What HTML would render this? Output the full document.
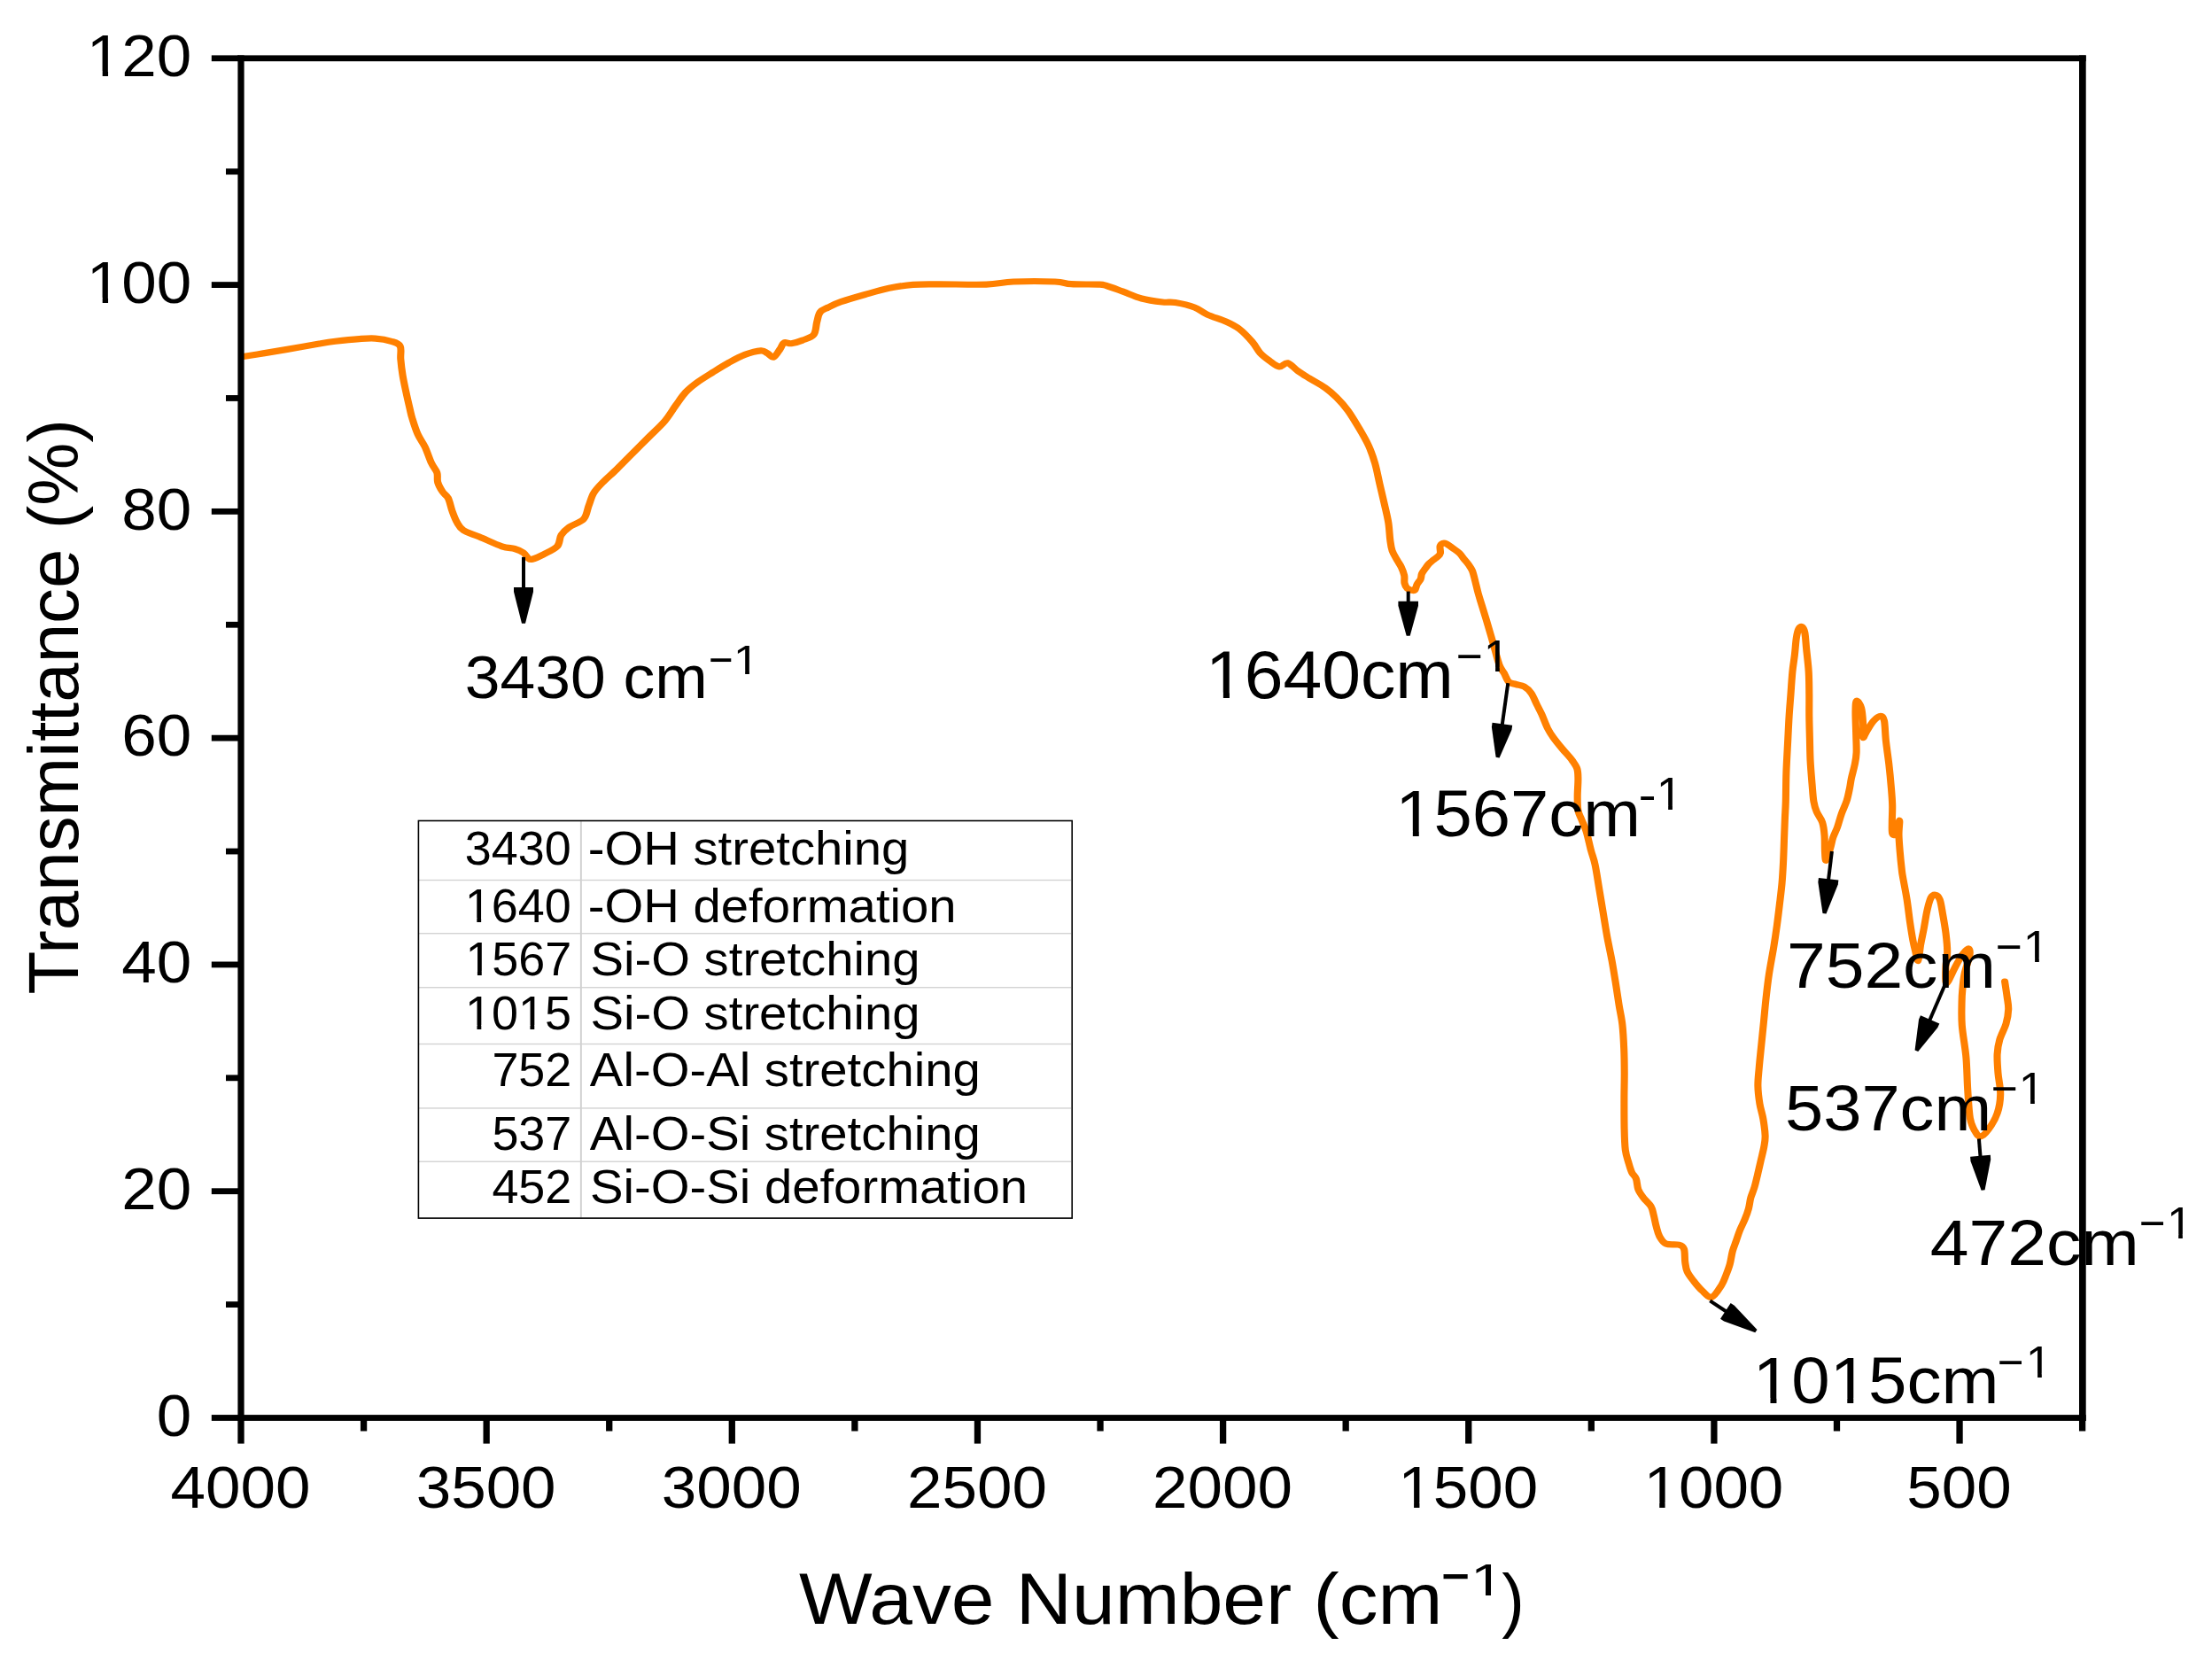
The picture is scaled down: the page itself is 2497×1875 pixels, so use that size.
<!DOCTYPE html>
<html><head><meta charset="utf-8"><title>FTIR spectrum</title>
<style>html,body{margin:0;padding:0;background:#fff;}body{width:2497px;height:1875px;overflow:hidden;}svg{display:block;}</style>
</head><body>
<svg width="2497" height="1875" viewBox="0 0 2497 1875">
<defs><clipPath id="c0" clipPathUnits="userSpaceOnUse"><rect x="77.78" y="254.74" width="158.69" height="81.49"/><rect x="77.78" y="335.74" width="21.49" height="32.91"/><rect x="115.70" y="335.74" width="6.35" height="32.91"/><rect x="137.07" y="335.74" width="99.41" height="32.91"/></clipPath><clipPath id="c1" clipPathUnits="userSpaceOnUse"><rect x="77.78" y="-1.04" width="158.69" height="81.49"/><rect x="77.78" y="79.96" width="21.49" height="32.91"/><rect x="115.70" y="79.96" width="6.35" height="32.91"/><rect x="137.07" y="79.96" width="99.41" height="32.91"/></clipPath><clipPath id="c2" clipPathUnits="userSpaceOnUse"><rect x="1835.30" y="1615.01" width="198.19" height="81.49"/><rect x="1835.30" y="1696.01" width="21.49" height="32.91"/><rect x="1873.23" y="1696.01" width="6.35" height="32.91"/><rect x="1894.59" y="1696.01" width="138.91" height="32.91"/></clipPath><clipPath id="c3" clipPathUnits="userSpaceOnUse"><rect x="1558.15" y="1615.01" width="198.19" height="81.49"/><rect x="1558.15" y="1696.01" width="21.49" height="32.91"/><rect x="1596.08" y="1696.01" width="6.35" height="32.91"/><rect x="1617.44" y="1696.01" width="138.91" height="32.91"/></clipPath><clipPath id="c4" clipPathUnits="userSpaceOnUse"><rect x="1645.16" y="1736.25" width="67.31" height="59.95"/><rect x="1645.16" y="1795.71" width="16.15" height="24.56"/><rect x="1676.98" y="1795.71" width="6.05" height="24.56"/><rect x="1697.35" y="1795.71" width="15.12" height="24.56"/></clipPath><clipPath id="c5" clipPathUnits="userSpaceOnUse"><rect x="813.90" y="700.71" width="57.41" height="56.04"/><rect x="813.90" y="756.25" width="14.91" height="23.04"/><rect x="841.16" y="756.25" width="4.77" height="23.04"/><rect x="857.21" y="756.25" width="14.10" height="23.04"/></clipPath><clipPath id="c6" clipPathUnits="userSpaceOnUse"><rect x="1338.55" y="690.12" width="324.92" height="91.65"/><rect x="1338.55" y="781.28" width="24.12" height="36.84"/><rect x="1380.87" y="781.28" width="7.03" height="36.84"/><rect x="1404.52" y="781.28" width="258.95" height="36.84"/></clipPath><clipPath id="c7" clipPathUnits="userSpaceOnUse"><rect x="1659.72" y="692.32" width="59.62" height="61.02"/><rect x="1659.72" y="752.84" width="16.12" height="24.97"/><rect x="1688.09" y="752.84" width="4.73" height="24.97"/><rect x="1704.02" y="752.84" width="15.32" height="24.97"/></clipPath><clipPath id="c8" clipPathUnits="userSpaceOnUse"><rect x="1553.34" y="848.57" width="320.56" height="89.16"/><rect x="1553.34" y="937.23" width="23.50" height="35.88"/><rect x="1594.83" y="937.23" width="6.95" height="35.88"/><rect x="1618.22" y="937.23" width="255.68" height="35.88"/></clipPath><clipPath id="c9" clipPathUnits="userSpaceOnUse"><rect x="1854.46" y="847.68" width="60.28" height="61.91"/><rect x="1854.46" y="909.09" width="16.35" height="25.32"/><rect x="1883.16" y="909.09" width="4.77" height="25.32"/><rect x="1899.21" y="909.09" width="15.54" height="25.32"/></clipPath><clipPath id="c10" clipPathUnits="userSpaceOnUse"><rect x="1956.61" y="1487.54" width="322.22" height="90.41"/><rect x="1956.61" y="1577.45" width="23.81" height="36.36"/><rect x="1998.48" y="1577.45" width="6.97" height="36.36"/><rect x="2021.95" y="1577.45" width="45.27" height="36.36"/><rect x="2085.29" y="1577.45" width="6.97" height="36.36"/><rect x="2108.76" y="1577.45" width="170.06" height="36.36"/></clipPath><clipPath id="c11" clipPathUnits="userSpaceOnUse"><rect x="2271.59" y="1488.95" width="59.88" height="61.56"/><rect x="2271.59" y="1550.01" width="16.25" height="25.18"/><rect x="2300.09" y="1550.01" width="4.73" height="25.18"/><rect x="2316.02" y="1550.01" width="15.45" height="25.18"/></clipPath><clipPath id="c12" clipPathUnits="userSpaceOnUse"><rect x="2268.63" y="1020.04" width="59.79" height="61.38"/><rect x="2268.63" y="1080.92" width="16.21" height="25.11"/><rect x="2297.09" y="1080.92" width="4.73" height="25.11"/><rect x="2313.02" y="1080.92" width="15.41" height="25.11"/></clipPath><clipPath id="c13" clipPathUnits="userSpaceOnUse"><rect x="2263.63" y="1180.04" width="59.79" height="61.38"/><rect x="2263.63" y="1240.92" width="16.21" height="25.11"/><rect x="2292.09" y="1240.92" width="4.73" height="25.11"/><rect x="2308.02" y="1240.92" width="15.41" height="25.11"/></clipPath><clipPath id="c14" clipPathUnits="userSpaceOnUse"><rect x="2430.82" y="1332.13" width="59.48" height="61.20"/><rect x="2430.82" y="1392.83" width="16.16" height="25.04"/><rect x="2459.13" y="1392.83" width="4.69" height="25.04"/><rect x="2474.93" y="1392.83" width="15.36" height="25.04"/></clipPath><clipPath id="c15" clipPathUnits="userSpaceOnUse"><rect x="508.63" y="970.83" width="152.25" height="65.44"/><rect x="508.63" y="1035.77" width="17.22" height="26.69"/><rect x="538.33" y="1035.77" width="4.82" height="26.69"/><rect x="554.54" y="1035.77" width="106.34" height="26.69"/></clipPath><clipPath id="c16" clipPathUnits="userSpaceOnUse"><rect x="509.23" y="1031.13" width="152.25" height="65.44"/><rect x="509.23" y="1096.07" width="17.22" height="26.69"/><rect x="538.93" y="1096.07" width="4.82" height="26.69"/><rect x="555.14" y="1096.07" width="106.34" height="26.69"/></clipPath><clipPath id="c17" clipPathUnits="userSpaceOnUse"><rect x="508.79" y="1091.93" width="152.25" height="65.44"/><rect x="508.79" y="1156.87" width="17.22" height="26.69"/><rect x="538.48" y="1156.87" width="4.82" height="26.69"/><rect x="554.70" y="1156.87" width="31.27" height="26.69"/><rect x="598.44" y="1156.87" width="4.82" height="26.69"/><rect x="614.65" y="1156.87" width="46.38" height="26.69"/></clipPath></defs>
<rect width="100%" height="100%" fill="#fff"/>
<g font-family="'Liberation Sans', Arial, sans-serif" fill="#000">
<rect x="471.0" y="925.8" width="740.0" height="450.0" fill="#fff"/>
<rect x="473.0" y="992.9" width="736.0" height="1.3" fill="#d0d0d0"/>
<rect x="473.0" y="1053.1" width="736.0" height="1.3" fill="#d0d0d0"/>
<rect x="473.0" y="1114.1" width="736.0" height="1.3" fill="#d0d0d0"/>
<rect x="473.0" y="1177.9" width="736.0" height="1.3" fill="#d0d0d0"/>
<rect x="473.0" y="1250.3" width="736.0" height="1.3" fill="#d0d0d0"/>
<rect x="473.0" y="1310.6" width="736.0" height="1.3" fill="#d0d0d0"/>
<rect x="654.9" y="927.1" width="1.9" height="447.4" fill="#d0d0d0"/>
<rect x="472.4" y="926.5" width="737.8" height="448.6" fill="none" stroke="#000" stroke-width="1.6"/>
<text x="524.80" y="976.00" font-size="53.90" textLength="119.91" lengthAdjust="spacingAndGlyphs">3430</text>
<text x="663.70" y="976.0" font-size="53.9" textLength="362.74" lengthAdjust="spacingAndGlyphs">-OH stretching</text>
<text x="524.80" y="1040.90" font-size="53.90" textLength="119.91" lengthAdjust="spacingAndGlyphs" clip-path="url(#c15)">1640</text>
<text x="663.70" y="1040.9" font-size="53.9" textLength="415.94" lengthAdjust="spacingAndGlyphs">-OH deformation</text>
<text x="525.40" y="1101.20" font-size="53.90" textLength="119.91" lengthAdjust="spacingAndGlyphs" clip-path="url(#c16)">1567</text>
<text x="666.44" y="1101.2" font-size="53.9" textLength="372.14" lengthAdjust="spacingAndGlyphs">Si-O stretching</text>
<text x="524.96" y="1162.00" font-size="53.90" textLength="119.91" lengthAdjust="spacingAndGlyphs" clip-path="url(#c17)">1015</text>
<text x="666.44" y="1162.0" font-size="53.9" textLength="372.14" lengthAdjust="spacingAndGlyphs">Si-O stretching</text>
<text x="555.38" y="1225.70" font-size="53.90" textLength="89.93" lengthAdjust="spacingAndGlyphs">752</text>
<text x="665.89" y="1225.7" font-size="53.9" textLength="440.91" lengthAdjust="spacingAndGlyphs">Al-O-Al stretching</text>
<text x="555.38" y="1298.20" font-size="53.90" textLength="89.93" lengthAdjust="spacingAndGlyphs">537</text>
<text x="665.89" y="1298.2" font-size="53.9" textLength="440.91" lengthAdjust="spacingAndGlyphs">Al-O-Si stretching</text>
<text x="555.38" y="1358.10" font-size="53.90" textLength="89.93" lengthAdjust="spacingAndGlyphs">452</text>
<text x="665.94" y="1358.1" font-size="53.9" textLength="494.11" lengthAdjust="spacingAndGlyphs">Si-O-Si deformation</text>
<g transform="scale(1.1250,1)"><path fill="none" stroke="#ff8000" stroke-width="7.2" stroke-linejoin="round" stroke-linecap="round" d="M244.00,402.50C247.35,401.90 256.73,400.25 264.09,398.90C271.45,397.55 278.80,396.22 288.18,394.40C297.56,392.58 312.31,389.52 320.36,388.00C328.40,386.48 329.75,386.20 336.44,385.30C343.14,384.40 353.84,383.13 360.53,382.60C367.23,382.07 371.26,381.65 376.62,382.10C381.99,382.55 388.56,383.87 392.71,385.30C396.86,386.73 399.96,387.38 401.51,390.70C403.07,394.02 401.63,399.77 402.04,405.20C402.46,410.63 403.14,417.27 404.00,423.30C404.86,429.33 406.00,435.07 407.20,441.40C408.40,447.73 410.13,456.18 411.20,461.30C412.27,466.42 412.27,467.28 413.60,472.10C414.93,476.92 417.05,484.77 419.20,490.20C421.35,495.63 424.21,499.28 426.49,504.70C428.77,510.12 430.89,517.88 432.89,522.70C434.89,527.52 437.42,529.97 438.49,533.60C439.56,537.23 438.34,540.88 439.29,544.50C440.24,548.12 442.43,552.30 444.18,555.30C445.93,558.30 448.18,558.88 449.78,562.50C451.38,566.12 452.31,572.47 453.78,577.00C455.24,581.53 456.70,586.08 458.58,589.70C460.46,593.32 461.32,595.98 465.07,598.70C468.81,601.42 474.64,602.98 481.07,606.00C487.50,609.02 497.75,614.55 503.64,616.80C509.54,619.05 512.83,618.30 516.44,619.50C520.06,620.70 523.05,622.20 525.33,624.00C527.61,625.80 528.67,629.10 530.13,630.30C531.60,631.50 531.59,631.95 534.13,631.20C536.68,630.45 541.26,628.20 545.42,625.80C549.59,623.40 556.16,620.42 559.11,616.80C562.06,613.18 561.11,607.72 563.11,604.10C565.11,600.48 567.36,598.12 571.11,595.10C574.86,592.08 582.34,589.98 585.60,586.00C588.86,582.02 589.01,576.07 590.67,571.20C592.33,566.33 593.27,561.17 595.56,556.80C597.84,552.43 600.47,549.52 604.36,545.00C608.24,540.48 614.03,534.97 618.84,529.70C623.66,524.43 627.90,519.43 633.24,513.40C638.59,507.37 645.30,499.83 650.93,493.50C656.56,487.17 662.46,481.43 667.02,475.40C671.59,469.37 674.83,462.72 678.31,457.30C681.79,451.88 684.43,447.12 687.91,442.90C691.39,438.68 694.64,435.77 699.20,432.00C703.76,428.23 709.94,424.07 715.29,420.30C720.64,416.53 725.94,412.72 731.29,409.40C736.64,406.08 742.01,402.67 747.38,400.40C752.74,398.13 759.72,396.10 763.47,395.80C767.21,395.50 767.72,397.38 769.87,398.60C772.01,399.82 774.21,403.87 776.36,403.10C778.50,402.33 781.02,396.72 782.76,394.00C784.49,391.28 784.87,387.85 786.76,386.80C788.64,385.75 790.96,388.15 794.04,387.70C797.13,387.25 801.50,385.75 805.24,384.10C808.99,382.45 814.12,381.27 816.53,377.80C818.95,374.33 818.67,367.53 819.73,363.30C820.80,359.07 821.05,355.12 822.93,352.40C824.81,349.68 827.54,348.95 831.02,347.00C834.50,345.05 837.66,343.12 843.82,340.70C849.99,338.28 859.96,335.07 868.00,332.50C876.04,329.93 884.06,327.17 892.09,325.30C900.12,323.43 907.82,322.05 916.18,321.30C924.53,320.55 929.99,320.83 942.22,320.80C954.46,320.77 977.16,321.57 989.60,321.10C1002.04,320.63 1005.38,318.52 1016.89,318.00C1028.40,317.48 1049.02,317.55 1058.67,318.00C1068.31,318.45 1067.51,320.18 1074.76,320.70C1082.00,321.22 1096.24,320.80 1102.13,321.10C1108.03,321.40 1106.12,321.20 1110.13,322.50C1114.15,323.80 1120.33,326.48 1126.22,328.90C1132.12,331.32 1138.81,334.98 1145.51,337.00C1152.21,339.02 1160.77,340.25 1166.40,341.00C1172.03,341.75 1173.93,340.50 1179.29,341.50C1184.65,342.50 1193.23,344.73 1198.58,347.00C1203.93,349.27 1206.03,352.40 1211.38,355.10C1216.73,357.80 1225.30,360.48 1230.67,363.20C1236.03,365.92 1239.26,367.63 1243.56,371.40C1247.85,375.17 1252.96,381.28 1256.44,385.80C1259.93,390.32 1261.50,394.88 1264.44,398.50C1267.39,402.12 1270.92,404.93 1274.13,407.50C1277.35,410.07 1280.74,413.52 1283.73,413.90C1286.73,414.28 1288.96,408.97 1292.09,409.80C1295.21,410.63 1298.87,416.03 1302.49,418.90C1306.10,421.77 1309.21,423.83 1313.78,427.00C1318.34,430.17 1325.32,434.28 1329.87,437.90C1334.41,441.52 1337.32,444.48 1341.07,448.70C1344.81,452.92 1348.61,457.47 1352.36,463.20C1356.10,468.93 1360.07,476.47 1363.56,483.10C1367.04,489.73 1370.56,496.37 1373.24,503.00C1375.93,509.63 1377.78,515.67 1379.64,522.90C1381.51,530.13 1382.83,538.57 1384.44,546.40C1386.06,554.23 1387.88,562.63 1389.33,569.90C1390.79,577.17 1392.22,583.33 1393.16,590.00C1394.09,596.67 1394.30,604.60 1394.93,609.90C1395.57,615.20 1395.81,618.05 1396.98,621.80C1398.15,625.55 1400.43,629.32 1401.96,632.40C1403.48,635.48 1404.95,637.43 1406.13,640.30C1407.32,643.17 1408.53,646.62 1409.07,649.60C1409.60,652.58 1408.84,655.77 1409.33,658.20C1409.82,660.63 1410.87,662.87 1412.00,664.20C1413.13,665.53 1414.81,665.87 1416.09,666.20C1417.36,666.53 1418.67,667.32 1419.64,666.20C1420.62,665.08 1420.98,661.60 1421.96,659.50C1422.93,657.40 1424.73,655.58 1425.51,653.60C1426.30,651.62 1425.88,649.58 1426.67,647.60C1427.45,645.62 1429.04,643.57 1430.22,641.70C1431.41,639.83 1432.50,637.95 1433.78,636.40C1435.05,634.85 1436.40,633.73 1437.87,632.40C1439.33,631.07 1441.35,629.73 1442.58,628.40C1443.81,627.07 1444.84,626.38 1445.24,624.40C1445.64,622.42 1444.53,618.37 1444.98,616.50C1445.42,614.63 1446.84,613.65 1447.91,613.20C1448.98,612.75 1449.81,612.92 1451.38,613.80C1452.95,614.68 1455.17,616.73 1457.33,618.50C1459.50,620.27 1462.40,622.30 1464.36,624.40C1466.31,626.50 1467.50,628.88 1469.07,631.10C1470.64,633.32 1472.40,635.50 1473.78,637.70C1475.16,639.90 1476.25,641.22 1477.33,644.30C1478.41,647.38 1479.29,652.00 1480.27,656.20C1481.24,660.40 1482.12,665.08 1483.20,669.50C1484.28,673.92 1485.38,677.62 1486.76,682.70C1488.13,687.78 1489.60,692.95 1491.47,700.00C1493.33,707.05 1495.81,716.62 1497.96,725.00C1500.10,733.38 1502.47,744.48 1504.36,750.30C1506.24,756.12 1507.64,756.65 1509.24,759.90C1510.84,763.15 1511.99,767.70 1513.96,769.80C1515.93,771.90 1518.50,771.62 1521.07,772.50C1523.63,773.38 1526.79,773.45 1529.33,775.10C1531.88,776.75 1534.21,778.98 1536.36,782.40C1538.50,785.82 1540.46,791.63 1542.22,795.60C1543.99,799.57 1545.16,801.78 1546.93,806.20C1548.71,810.62 1550.92,817.68 1552.89,822.10C1554.86,826.52 1556.21,828.72 1558.76,832.70C1561.30,836.68 1565.24,842.02 1568.18,846.00C1571.11,849.98 1574.00,853.07 1576.36,856.60C1578.71,860.13 1581.13,863.45 1582.31,867.20C1583.50,870.95 1583.38,873.82 1583.47,879.10C1583.56,884.38 1582.84,892.95 1582.84,898.90C1582.84,904.85 1582.77,910.38 1583.47,914.80C1584.16,919.22 1585.64,921.42 1587.02,925.40C1588.40,929.38 1590.16,932.93 1591.73,938.70C1593.30,944.47 1594.98,953.77 1596.44,960.00C1597.91,966.23 1599.17,968.90 1600.53,976.10C1601.90,983.30 1603.27,994.17 1604.62,1003.20C1605.97,1012.23 1607.29,1021.27 1608.62,1030.30C1609.96,1039.33 1611.16,1048.37 1612.62,1057.40C1614.09,1066.43 1615.96,1075.47 1617.42,1084.50C1618.89,1093.53 1620.22,1103.17 1621.42,1111.60C1622.62,1120.03 1623.54,1127.57 1624.62,1135.10C1625.70,1142.63 1627.10,1148.67 1627.91,1156.80C1628.73,1164.93 1629.17,1174.87 1629.51,1183.90C1629.85,1192.93 1629.93,1201.65 1629.96,1211.00C1629.99,1220.35 1629.70,1229.33 1629.69,1240.00C1629.67,1250.67 1629.66,1265.32 1629.87,1275.00C1630.07,1284.68 1630.22,1291.85 1630.93,1298.10C1631.64,1304.35 1633.07,1308.30 1634.13,1312.50C1635.20,1316.70 1636.07,1320.28 1637.33,1323.30C1638.59,1326.32 1640.61,1327.38 1641.69,1330.60C1642.77,1333.82 1642.58,1339.00 1643.82,1342.60C1645.07,1346.20 1647.02,1348.98 1649.16,1352.20C1651.29,1355.42 1654.93,1358.68 1656.62,1361.90C1658.31,1365.12 1658.40,1367.70 1659.29,1371.50C1660.18,1375.30 1660.98,1380.68 1661.96,1384.70C1662.93,1388.72 1663.54,1392.38 1665.16,1395.60C1666.77,1398.82 1668.43,1402.40 1671.64,1404.00C1674.86,1405.60 1681.42,1404.20 1684.44,1405.20C1687.47,1406.20 1688.71,1406.78 1689.78,1410.00C1690.84,1413.22 1690.31,1420.28 1690.84,1424.50C1691.38,1428.72 1691.54,1431.70 1692.98,1435.30C1694.41,1438.90 1696.96,1442.48 1699.47,1446.10C1701.97,1449.72 1704.98,1453.98 1708.00,1457.00C1711.02,1460.02 1714.39,1465.20 1717.60,1464.20C1720.81,1463.20 1724.87,1455.22 1727.29,1451.00C1729.70,1446.78 1730.67,1442.92 1732.09,1438.90C1733.51,1434.88 1734.76,1431.32 1735.82,1426.90C1736.89,1422.48 1737.42,1416.82 1738.49,1412.40C1739.56,1407.98 1740.98,1404.40 1742.22,1400.40C1743.47,1396.40 1744.52,1392.42 1745.96,1388.40C1747.39,1384.38 1749.41,1380.32 1750.84,1376.30C1752.28,1372.28 1753.60,1368.32 1754.58,1364.30C1755.56,1360.28 1755.73,1356.22 1756.71,1352.20C1757.69,1348.18 1759.29,1344.62 1760.44,1340.20C1761.60,1335.78 1762.58,1330.72 1763.64,1325.70C1764.71,1320.68 1765.78,1315.32 1766.84,1310.10C1767.91,1304.88 1769.32,1299.08 1770.04,1294.40C1770.77,1289.72 1771.35,1287.25 1771.20,1282.00C1771.05,1276.75 1770.07,1268.95 1769.16,1262.90C1768.24,1256.85 1766.56,1251.88 1765.69,1245.70C1764.81,1239.52 1764.01,1232.42 1763.91,1225.80C1763.81,1219.18 1764.49,1213.72 1765.07,1206.00C1765.64,1198.28 1766.59,1188.33 1767.38,1179.50C1768.16,1170.67 1768.99,1161.83 1769.78,1153.00C1770.56,1144.17 1771.21,1135.33 1772.09,1126.50C1772.96,1117.67 1773.73,1109.63 1775.02,1100.00C1776.31,1090.37 1778.49,1077.93 1779.82,1068.70C1781.16,1059.47 1782.04,1052.63 1783.02,1044.60C1784.00,1036.57 1784.84,1028.53 1785.69,1020.50C1786.53,1012.47 1787.47,1004.43 1788.09,996.40C1788.71,988.37 1789.07,980.33 1789.42,972.30C1789.78,964.27 1789.96,956.23 1790.22,948.20C1790.49,940.17 1790.76,931.33 1791.02,924.10C1791.29,916.87 1791.60,913.52 1791.82,904.80C1792.04,896.08 1791.99,883.60 1792.36,871.80C1792.73,860.00 1793.57,844.52 1794.04,834.00C1794.52,823.48 1794.73,817.13 1795.20,808.70C1795.67,800.27 1796.33,791.82 1796.89,783.40C1797.45,774.98 1797.93,765.57 1798.58,758.20C1799.23,750.83 1800.15,745.52 1800.80,739.20C1801.45,732.88 1801.84,725.13 1802.49,720.30C1803.14,715.47 1803.78,712.32 1804.71,710.20C1805.64,708.08 1807.05,706.98 1808.09,707.60C1809.13,708.22 1810.18,709.68 1810.93,713.90C1811.69,718.12 1811.97,725.52 1812.62,732.90C1813.27,740.28 1814.39,749.78 1814.84,758.20C1815.30,766.62 1815.29,774.98 1815.38,783.40C1815.47,791.82 1815.29,800.27 1815.38,808.70C1815.47,817.13 1815.72,825.58 1815.91,834.00C1816.10,842.42 1816.15,850.78 1816.53,859.20C1816.92,867.62 1817.66,876.90 1818.22,884.50C1818.79,892.10 1819.13,899.45 1819.91,904.80C1820.70,910.15 1821.50,912.70 1822.93,916.60C1824.37,920.50 1827.24,923.85 1828.53,928.20C1829.82,932.55 1830.24,937.08 1830.67,942.70C1831.10,948.32 1830.83,957.15 1831.11,961.90C1831.39,966.65 1831.42,972.00 1832.36,971.20C1833.29,970.40 1835.56,961.38 1836.71,957.10C1837.87,952.82 1838.15,949.35 1839.29,945.50C1840.43,941.65 1842.13,938.48 1843.56,934.00C1844.98,929.52 1846.25,923.58 1847.82,918.60C1849.39,913.62 1851.61,908.93 1852.98,904.10C1854.34,899.27 1855.21,893.85 1856.00,889.60C1856.79,885.35 1856.83,883.08 1857.69,878.60C1858.55,874.12 1860.31,867.55 1861.16,862.70C1862.00,857.85 1862.55,855.02 1862.76,849.50C1862.96,843.98 1862.56,837.33 1862.40,829.60C1862.24,821.87 1861.69,809.50 1861.78,803.10C1861.87,796.70 1861.96,791.87 1862.93,791.20C1863.91,790.53 1866.56,794.90 1867.64,799.10C1868.73,803.30 1869.13,810.87 1869.42,816.40C1869.72,821.93 1868.83,830.77 1869.42,832.30C1870.01,833.83 1871.21,828.70 1872.98,825.60C1874.74,822.50 1877.64,816.57 1880.00,813.70C1882.36,810.83 1885.33,808.40 1887.11,808.40C1888.89,808.40 1889.79,809.07 1890.67,813.70C1891.54,818.33 1891.57,828.03 1892.36,836.20C1893.14,844.37 1894.49,853.87 1895.38,862.70C1896.27,871.53 1897.11,881.47 1897.69,889.20C1898.27,896.93 1898.71,902.48 1898.84,909.10C1898.98,915.72 1898.49,923.60 1898.49,928.90C1898.49,934.20 1898.19,938.90 1898.84,940.90C1899.50,942.90 1901.21,943.33 1902.40,940.90C1903.59,938.47 1905.47,926.08 1905.96,926.30C1906.44,926.52 1905.24,936.25 1905.33,942.20C1905.42,948.15 1906.00,955.38 1906.49,962.00C1906.98,968.62 1907.79,977.23 1908.27,981.90C1908.74,986.57 1908.47,984.43 1909.33,990.00C1910.19,995.57 1912.24,1006.87 1913.42,1015.30C1914.61,1023.73 1915.44,1032.88 1916.44,1040.60C1917.45,1048.32 1918.59,1056.27 1919.47,1061.60C1920.34,1066.93 1920.81,1068.80 1921.69,1072.60C1922.56,1076.40 1923.78,1085.52 1924.71,1084.40C1925.64,1083.28 1926.36,1071.80 1927.29,1065.90C1928.22,1060.00 1929.24,1055.33 1930.31,1049.00C1931.38,1042.67 1932.50,1033.80 1933.69,1027.90C1934.87,1022.00 1936.04,1016.55 1937.42,1013.60C1938.80,1010.65 1940.46,1009.92 1941.96,1010.20C1943.45,1010.48 1945.16,1011.65 1946.40,1015.30C1947.64,1018.95 1948.41,1025.78 1949.42,1032.10C1950.43,1038.42 1951.69,1046.17 1952.44,1053.20C1953.20,1060.23 1953.96,1067.98 1953.96,1074.30C1953.96,1080.62 1952.70,1085.48 1952.44,1091.10C1952.19,1096.72 1952.07,1105.18 1952.44,1108.00C1952.81,1110.82 1953.05,1110.82 1954.67,1108.00C1956.28,1105.18 1959.63,1096.30 1962.13,1091.10C1964.64,1085.90 1967.50,1080.17 1969.69,1076.80C1971.88,1073.43 1974.18,1070.62 1975.29,1070.90C1976.40,1071.18 1977.05,1073.72 1976.36,1078.50C1975.66,1083.28 1972.30,1093.28 1971.11,1099.60C1969.93,1105.92 1969.67,1111.33 1969.24,1116.40C1968.81,1121.47 1968.62,1123.17 1968.53,1130.00C1968.44,1136.83 1968.00,1146.80 1968.71,1157.40C1969.42,1168.00 1971.85,1181.55 1972.80,1193.60C1973.75,1205.65 1973.73,1218.27 1974.40,1229.70C1975.07,1241.13 1975.60,1254.37 1976.80,1262.20C1978.00,1270.03 1979.87,1273.23 1981.60,1276.70C1983.33,1280.17 1984.92,1283.30 1987.20,1283.00C1989.48,1282.70 1992.47,1279.27 1995.29,1274.90C1998.10,1270.53 2002.09,1263.43 2004.09,1256.80C2006.09,1250.17 2007.16,1242.63 2007.29,1235.10C2007.42,1227.57 2005.42,1219.12 2004.89,1211.60C2004.36,1204.08 2003.82,1196.32 2004.09,1190.00C2004.36,1183.68 2005.02,1179.43 2006.49,1173.70C2007.96,1167.97 2011.42,1161.32 2012.89,1155.60C2014.36,1149.88 2015.13,1144.52 2015.29,1139.40C2015.45,1134.28 2014.47,1130.13 2013.87,1124.90C2013.26,1119.67 2012.01,1110.82 2011.64,1108.00"/></g>
<text x="524.88" y="788.00" font-size="67.60" textLength="273.83" lengthAdjust="spacingAndGlyphs">3430 cm</text>
<text x="827.77" y="760.80" font-size="46.22" textLength="29.67" lengthAdjust="spacingAndGlyphs" clip-path="url(#c5)">1</text>
<text x="799.67" y="762.72" font-size="53.30" textLength="27.65" lengthAdjust="spacingAndGlyphs">−</text>
<text x="1361.14" y="788.00" font-size="75.29" textLength="279.75" lengthAdjust="spacingAndGlyphs" clip-path="url(#c6)">1640cm</text>
<text x="1674.81" y="757.70" font-size="50.29" textLength="29.45" lengthAdjust="spacingAndGlyphs" clip-path="url(#c7)">1</text>
<text x="1643.46" y="758.62" font-size="53.30" textLength="30.05" lengthAdjust="spacingAndGlyphs">−</text>
<text x="1575.32" y="943.80" font-size="73.26" textLength="276.60" lengthAdjust="spacingAndGlyphs" clip-path="url(#c8)">1567cm</text>
<text x="1869.77" y="914.00" font-size="51.02" textLength="29.67" lengthAdjust="spacingAndGlyphs" clip-path="url(#c9)">1</text>
<text x="1849.41" y="914.21" font-size="49.92" textLength="20.19" lengthAdjust="spacingAndGlyphs">-</text>
<text x="1978.89" y="1584.10" font-size="74.27" textLength="277.65" lengthAdjust="spacingAndGlyphs" clip-path="url(#c10)">1015cm</text>
<text x="2286.81" y="1554.90" font-size="50.73" textLength="29.45" lengthAdjust="spacingAndGlyphs" clip-path="url(#c11)">1</text>
<text x="2254.58" y="1555.62" font-size="53.30" textLength="29.81" lengthAdjust="spacingAndGlyphs">−</text>
<text x="2016.97" y="1114.90" font-size="72.09" textLength="235.91" lengthAdjust="spacingAndGlyphs">752cm</text>
<text x="2283.81" y="1085.80" font-size="50.58" textLength="29.45" lengthAdjust="spacingAndGlyphs" clip-path="url(#c12)">1</text>
<text x="2252.46" y="1086.62" font-size="53.30" textLength="30.05" lengthAdjust="spacingAndGlyphs">−</text>
<text x="2014.99" y="1276.00" font-size="71.61" textLength="233.13" lengthAdjust="spacingAndGlyphs">537cm</text>
<text x="2278.81" y="1245.80" font-size="50.58" textLength="29.45" lengthAdjust="spacingAndGlyphs" clip-path="url(#c13)">1</text>
<text x="2247.46" y="1246.62" font-size="53.30" textLength="30.05" lengthAdjust="spacingAndGlyphs">−</text>
<text x="2178.80" y="1427.50" font-size="71.95" textLength="235.99" lengthAdjust="spacingAndGlyphs">472cm</text>
<text x="2445.95" y="1397.70" font-size="50.44" textLength="29.22" lengthAdjust="spacingAndGlyphs" clip-path="url(#c14)">1</text>
<text x="2414.58" y="1398.62" font-size="53.30" textLength="29.81" lengthAdjust="spacingAndGlyphs">−</text>
<text x="176.88" y="1620.74" font-size="67.00" textLength="39.50" lengthAdjust="spacingAndGlyphs">0</text>
<text x="137.38" y="1364.96" font-size="67.00" textLength="79.00" lengthAdjust="spacingAndGlyphs">20</text>
<text x="137.38" y="1109.18" font-size="67.00" textLength="79.00" lengthAdjust="spacingAndGlyphs">40</text>
<text x="137.38" y="853.40" font-size="67.00" textLength="79.00" lengthAdjust="spacingAndGlyphs">60</text>
<text x="137.38" y="597.62" font-size="67.00" textLength="79.00" lengthAdjust="spacingAndGlyphs">80</text>
<text x="97.88" y="341.84" font-size="67.00" textLength="118.49" lengthAdjust="spacingAndGlyphs" clip-path="url(#c0)">100</text>
<text x="97.88" y="86.06" font-size="67.00" textLength="118.49" lengthAdjust="spacingAndGlyphs" clip-path="url(#c1)">120</text>
<text x="2152.30" y="1702.11" font-size="67.00" textLength="118.49" lengthAdjust="spacingAndGlyphs">500</text>
<text x="1855.40" y="1702.11" font-size="67.00" textLength="157.99" lengthAdjust="spacingAndGlyphs" clip-path="url(#c2)">1000</text>
<text x="1578.25" y="1702.11" font-size="67.00" textLength="157.99" lengthAdjust="spacingAndGlyphs" clip-path="url(#c3)">1500</text>
<text x="1301.10" y="1702.11" font-size="67.00" textLength="157.99" lengthAdjust="spacingAndGlyphs">2000</text>
<text x="1023.95" y="1702.11" font-size="67.00" textLength="157.99" lengthAdjust="spacingAndGlyphs">2500</text>
<text x="746.80" y="1702.11" font-size="67.00" textLength="157.99" lengthAdjust="spacingAndGlyphs">3000</text>
<text x="469.65" y="1702.11" font-size="67.00" textLength="157.99" lengthAdjust="spacingAndGlyphs">3500</text>
<text x="192.50" y="1702.11" font-size="67.00" textLength="157.99" lengthAdjust="spacingAndGlyphs">4000</text>
<text transform="translate(87.9,1120.8) rotate(-90)" x="-1.79" y="0" font-size="80.50" textLength="649.42" lengthAdjust="spacingAndGlyphs">Transmittance (%)</text>
<text x="901.92" y="1833.00" font-size="81.50" textLength="726.53" lengthAdjust="spacingAndGlyphs">Wave Number (cm</text>
<text x="1659.99" y="1800.50" font-size="49.42" textLength="37.66" lengthAdjust="spacingAndGlyphs" clip-path="url(#c4)">1</text>
<text x="1626.74" y="1804.25" font-size="72.94" textLength="32.69" lengthAdjust="spacingAndGlyphs">−</text>
<text x="1695.15" y="1832.77" font-size="78.89" textLength="25.62" lengthAdjust="spacingAndGlyphs">)</text>
</g>
<rect x="268.40" y="62.40" width="7.20" height="1541.50" fill="#000"/>
<rect x="2347.00" y="62.40" width="7.70" height="1541.50" fill="#000"/>
<rect x="268.40" y="62.40" width="2086.30" height="6.80" fill="#000"/>
<rect x="268.40" y="1597.10" width="2086.30" height="6.80" fill="#000"/>
<rect x="238.80" y="1597.08" width="30.60" height="6.80" fill="#000"/>
<rect x="255.00" y="1469.19" width="14.40" height="6.80" fill="#000"/>
<rect x="238.80" y="1341.30" width="30.60" height="6.80" fill="#000"/>
<rect x="255.00" y="1213.41" width="14.40" height="6.80" fill="#000"/>
<rect x="238.80" y="1085.52" width="30.60" height="6.80" fill="#000"/>
<rect x="255.00" y="957.63" width="14.40" height="6.80" fill="#000"/>
<rect x="238.80" y="829.74" width="30.60" height="6.80" fill="#000"/>
<rect x="255.00" y="701.85" width="14.40" height="6.80" fill="#000"/>
<rect x="238.80" y="573.96" width="30.60" height="6.80" fill="#000"/>
<rect x="255.00" y="446.07" width="14.40" height="6.80" fill="#000"/>
<rect x="238.80" y="318.18" width="30.60" height="6.80" fill="#000"/>
<rect x="255.00" y="190.29" width="14.40" height="6.80" fill="#000"/>
<rect x="238.80" y="62.40" width="30.60" height="6.80" fill="#000"/>
<rect x="2346.97" y="1602.90" width="7.30" height="12.60" fill="#000"/>
<rect x="2208.40" y="1602.90" width="7.30" height="26.70" fill="#000"/>
<rect x="2069.83" y="1602.90" width="7.30" height="12.60" fill="#000"/>
<rect x="1931.25" y="1602.90" width="7.30" height="26.70" fill="#000"/>
<rect x="1792.67" y="1602.90" width="7.30" height="12.60" fill="#000"/>
<rect x="1654.10" y="1602.90" width="7.30" height="26.70" fill="#000"/>
<rect x="1515.52" y="1602.90" width="7.30" height="12.60" fill="#000"/>
<rect x="1376.95" y="1602.90" width="7.30" height="26.70" fill="#000"/>
<rect x="1238.38" y="1602.90" width="7.30" height="12.60" fill="#000"/>
<rect x="1099.80" y="1602.90" width="7.30" height="26.70" fill="#000"/>
<rect x="961.23" y="1602.90" width="7.30" height="12.60" fill="#000"/>
<rect x="822.65" y="1602.90" width="7.30" height="26.70" fill="#000"/>
<rect x="684.08" y="1602.90" width="7.30" height="12.60" fill="#000"/>
<rect x="545.50" y="1602.90" width="7.30" height="26.70" fill="#000"/>
<rect x="406.93" y="1602.90" width="7.30" height="12.60" fill="#000"/>
<rect x="268.35" y="1602.90" width="7.30" height="26.70" fill="#000"/>
<line x1="591.00" y1="628.90" x2="591.00" y2="664.10" stroke="#000" stroke-width="4.00"/>
<polygon points="580.00,663.10 580.00,668.10 589.00,703.70 593.00,703.70 602.00,668.10 602.00,663.10" fill="#000"/>
<line x1="1589.70" y1="667.60" x2="1589.70" y2="679.80" stroke="#000" stroke-width="4.00"/>
<polygon points="1578.40,678.80 1578.40,683.80 1587.70,717.80 1591.70,717.80 1601.00,683.80 1601.00,678.80" fill="#000"/>
<line x1="1702.30" y1="771.10" x2="1695.73" y2="818.26" stroke="#000" stroke-width="4.00"/>
<polygon points="1684.58,815.69 1683.89,820.64 1688.62,854.82 1692.58,855.38 1706.47,823.79 1707.16,818.84" fill="#000"/>
<line x1="2067.90" y1="961.00" x2="2064.04" y2="993.27" stroke="#000" stroke-width="4.00"/>
<polygon points="2052.94,990.94 2052.35,995.90 2057.51,1031.06 2061.49,1031.54 2074.79,998.58 2075.38,993.62" fill="#000"/>
<line x1="2195.40" y1="1112.00" x2="2178.27" y2="1151.77" stroke="#000" stroke-width="4.00"/>
<polygon points="2168.01,1146.26 2166.04,1150.85 2161.56,1185.51 2165.24,1187.09 2187.34,1160.03 2189.32,1155.44" fill="#000"/>
<line x1="2233.90" y1="1285.50" x2="2235.54" y2="1305.72" stroke="#000" stroke-width="4.00"/>
<polygon points="2224.10,1305.65 2224.50,1310.63 2236.61,1343.66 2240.59,1343.34 2247.22,1308.79 2246.82,1303.81" fill="#000"/>
<line x1="1930.30" y1="1468.40" x2="1948.66" y2="1480.48" stroke="#000" stroke-width="4.00"/>
<polygon points="1941.99,1488.79 1946.17,1491.54 1981.30,1504.37 1983.50,1501.03 1957.83,1473.83 1953.65,1471.08" fill="#000"/>
</svg>
</body></html>
